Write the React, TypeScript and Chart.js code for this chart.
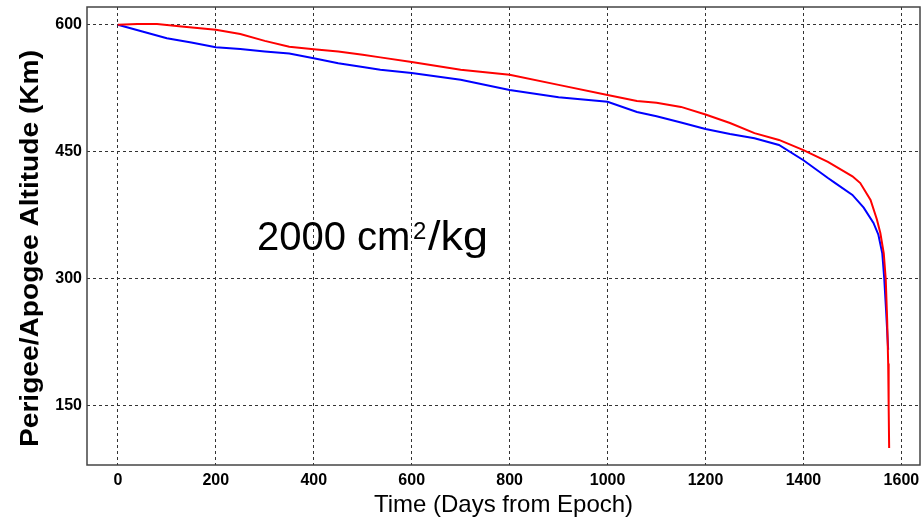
import React, { useEffect, useRef } from "react";
import { Chart, registerables } from "chart.js";

Chart.register(...registerables);

// Apogee altitude (red)
const apogeeDays = [0, 40, 80, 130, 200, 250, 300, 350, 400, 450, 500, 536, 600, 700, 800, 900, 1000, 1060, 1100, 1150, 1200, 1250, 1300, 1350, 1400, 1450, 1500, 1516, 1537, 1550, 1557, 1564, 1568, 1571, 1573, 1574, 1575];
const apogeeKm = [600, 601, 601, 598, 594, 589, 581, 574, 571, 568.5, 564.5, 561.5, 556, 547, 541, 529, 517, 510, 508, 503, 494, 484, 472, 464, 452, 438, 421, 413, 393, 370, 354, 330, 300, 250, 200, 150, 100];

// Perigee altitude (blue)
const perigeeDays = [0, 50, 100, 150, 200, 250, 300, 350, 400, 450, 500, 536, 600, 700, 800, 900, 1000, 1060, 1100, 1150, 1200, 1250, 1300, 1350, 1400, 1450, 1465, 1500, 1523, 1543, 1553, 1561, 1565, 1569, 1573];
const perigeeKm = [600, 592, 584, 579, 573.5, 571.5, 568.5, 566, 560.5, 554.5, 550, 547, 543, 535, 523, 514.5, 509, 497, 492, 484.5, 477, 471, 466, 458, 440, 419, 413, 399, 384, 366, 352, 330, 300, 260, 216];

const xTicks = [0, 200, 400, 600, 800, 1000, 1200, 1400, 1600];
const yTicks = [150, 300, 450, 600];

const xTitle = "Time (Days from Epoch)";
const yTitle = "Perigee/Apogee Altitude (Km)";
const noteMain = "2000 cm";
const noteSup = "2";
const noteTail = "/kg";

const FONT = "'Liberation Sans', Arial, sans-serif";

const textPlugin = {
  id: "customText",
  afterDraw(chart: any) {
    const ctx = chart.ctx;
    const a = chart.chartArea;
    ctx.save();
    // frame
    ctx.strokeStyle = "#444";
    ctx.lineWidth = 1.5;
    ctx.strokeRect(a.left, a.top, a.right - a.left, a.bottom - a.top);

    ctx.fillStyle = "#000";
    // x title
    ctx.font = `24px ${FONT}`;
    ctx.textAlign = "center";
    ctx.textBaseline = "alphabetic";
    ctx.fillText(xTitle, (a.left + a.right) / 2, 512);

    // y title
    ctx.save();
    ctx.font = `bold 26px ${FONT}`;
    const w = ctx.measureText(yTitle).width;
    ctx.translate(38, 248.5);
    ctx.rotate(-Math.PI / 2);
    ctx.scale(397 / w, 1);
    ctx.textAlign = "center";
    ctx.fillText(yTitle, 0, 0);
    ctx.restore();

    // annotation
    ctx.textAlign = "left";
    ctx.font = `40px ${FONT}`;
    ctx.fillText(noteMain, 257, 250);
    ctx.font = `24px ${FONT}`;
    ctx.fillText(noteSup, 413, 239);
    ctx.save();
    ctx.font = `40px ${FONT}`;
    const tw = ctx.measureText(noteTail).width;
    ctx.translate(428, 250);
    ctx.scale(60 / tw, 1);
    ctx.fillText(noteTail, 0, 0);
    ctx.restore();
    ctx.restore();
  },
};

export default function App() {
  const ref = useRef<HTMLCanvasElement | null>(null);

  useEffect(() => {
    if (!ref.current) return;
    const chart = new Chart(ref.current, {
      type: "line",
      data: {
        datasets: [
          {
            label: "Apogee",
            data: apogeeDays.map((d, i) => ({ x: d, y: apogeeKm[i] })),
            borderColor: "#ff0000",
            borderWidth: 2,
            pointRadius: 0,
            tension: 0,
            fill: false,
          },
          {
            label: "Perigee",
            data: perigeeDays.map((d, i) => ({ x: d, y: perigeeKm[i] })),
            borderColor: "#0000ff",
            borderWidth: 2,
            pointRadius: 0,
            tension: 0,
            fill: false,
          },
        ],
      },
      options: {
        animation: false,
        responsive: false,
        maintainAspectRatio: false,
        layout: { padding: { top: 7, right: 4, left: 0, bottom: 0 } },
        plugins: {
          legend: { display: false },
          tooltip: { enabled: false },
          title: { display: false },
        },
        scales: {
          x: {
            type: "linear",
            min: -63,
            max: 1638,
            afterBuildTicks: (s: any) => {
              s.ticks = xTicks.map((v) => ({ value: v }));
            },
            afterFit: (s: any) => {
              s.height = 55;
              s.paddingLeft = 0;
              s.paddingRight = 0;
              s.paddingTop = 0;
              s.paddingBottom = 0;
            },
            grid: {
              color: "#333",
              lineWidth: 1,
              drawTicks: false,
            },
            border: { display: false, dash: [3, 3] },
            ticks: {
              color: "#000",
              padding: 6,
              maxRotation: 0,
              autoSkip: false,
              callback: (v: any) => String(v),
              font: { family: FONT, size: 16, weight: "bold" },
            },
          },
          y: {
            type: "linear",
            min: 80,
            max: 621,
            afterBuildTicks: (s: any) => {
              s.ticks = yTicks.map((v) => ({ value: v }));
            },
            afterFit: (s: any) => {
              s.width = 87;
              s.paddingLeft = 0;
              s.paddingRight = 0;
              s.paddingTop = 0;
              s.paddingBottom = 0;
            },
            grid: {
              color: "#333",
              lineWidth: 1,
              drawTicks: false,
            },
            border: { display: false, dash: [3, 3] },
            ticks: {
              color: "#000",
              padding: 5,
              autoSkip: false,
              callback: (v: any) => String(v),
              font: { family: FONT, size: 16, weight: "bold" },
            },
          },
        },
      },
      plugins: [textPlugin],
    } as any);
    return () => chart.destroy();
  }, []);

  return (
    <div style={{ position: "absolute", left: 0, top: 0, width: 924, height: 520, background: "#fff" }}>
      <canvas ref={ref} width={924} height={520} style={{ width: 924, height: 520, display: "block" }} />
    </div>
  );
}
